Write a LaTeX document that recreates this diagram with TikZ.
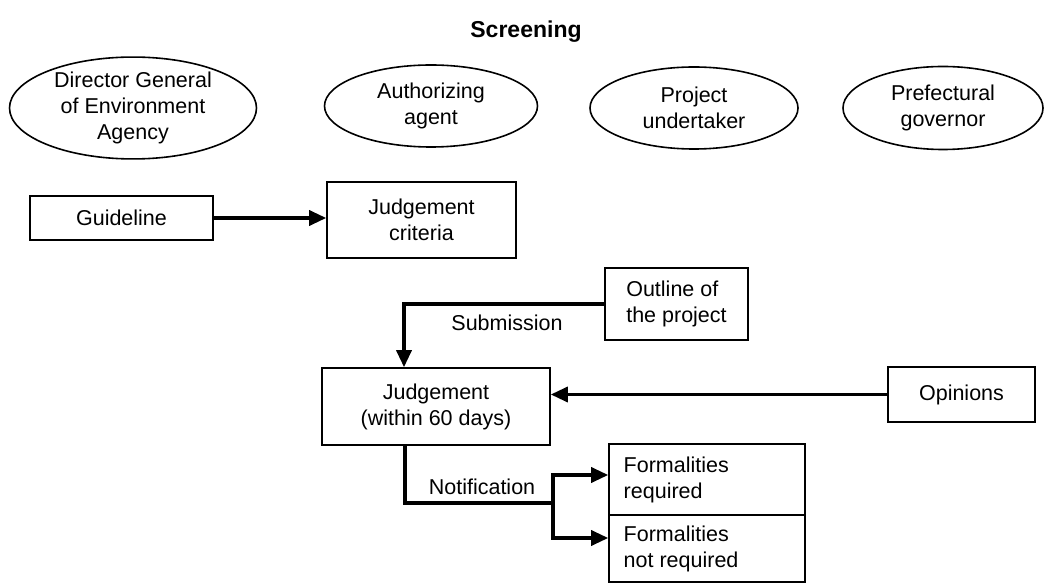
\documentclass[tikz,border=0pt]{standalone}
\usepackage{fontspec}
\setmainfont{Liberation Sans}
\usetikzlibrary{shapes.geometric,arrows.meta}
\begin{document}
\begin{tikzpicture}[x=1pt,y=-1pt,
  every node/.style={font=\fontsize{21.5}{26}\selectfont},
  actor/.style={draw,ellipse,line width=1.6pt,inner sep=0pt,align=center},
  box/.style={draw,rectangle,line width=1.6pt,inner sep=0pt,align=center},
  arr/.style={line width=3.4pt,-{Triangle[length=17pt,width=15pt]}},
  conn/.style={line width=3.4pt}]
\useasboundingbox (0,0) rectangle (1050,585);
\node (title) at (526,32) {\fontsize{23}{27}\selectfont\bfseries Screening};
\node[actor,minimum width=247,minimum height=100] (e1) at (133,108) {Director General\\of Environment\\Agency};
\node[actor,minimum width=213,minimum height=82] (e2) at (431,106) {Authorizing\\agent};
\node[actor,minimum width=208,minimum height=82] (e3) at (694,108) {Project\\undertaker};
\node[actor,minimum width=200,minimum height=83] (e4) at (943,108) {Prefectural\\governor};
\node[box,minimum width=183,minimum height=44] (guide) at (121.5,218) {Guideline};
\node[box,minimum width=189,minimum height=76] (crit) at (421.5,220) {Judgement\\criteria};
\node[box,minimum width=143,minimum height=72,align=left] (outline) at (676.5,304) {Outline of\\the project};
\node[box,minimum width=228,minimum height=77] (judg) at (436,406.5) {Judgement\\(within 60 days)};
\node[box,minimum width=147,minimum height=55] (opin) at (961.5,394.5) {Opinions};
\node[box,minimum width=196,minimum height=71] (freq) at (707,479.5) {};
\node[anchor=west,align=left] (freqt) at ([xshift=12pt]freq.west) {Formalities\\required};
\node[box,minimum width=196,minimum height=67] (fnot) at (707,548.5) {};
\node[anchor=west,align=left] (fnott) at ([xshift=12pt]fnot.west) {Formalities\\not required};
\node (sub) at (507,323) {Submission};
\node (noti) at (482,487) {Notification};
\coordinate (split) at (553,503);
\draw[arr] (guide.east) -- (guide.east -| crit.west);
\draw[arr] (outline.west) -| ([xshift=-32pt]judg.north);
\draw[arr] (opin.west) -- (opin.west -| judg.east);
\draw[conn] ([xshift=-31pt]judg.south) |- (split);
\draw[arr] (split) |- ([yshift=4.5pt]freq.west);
\draw[arr] (split) |- ([yshift=10.5pt]fnot.west);
\end{tikzpicture}
\end{document}
